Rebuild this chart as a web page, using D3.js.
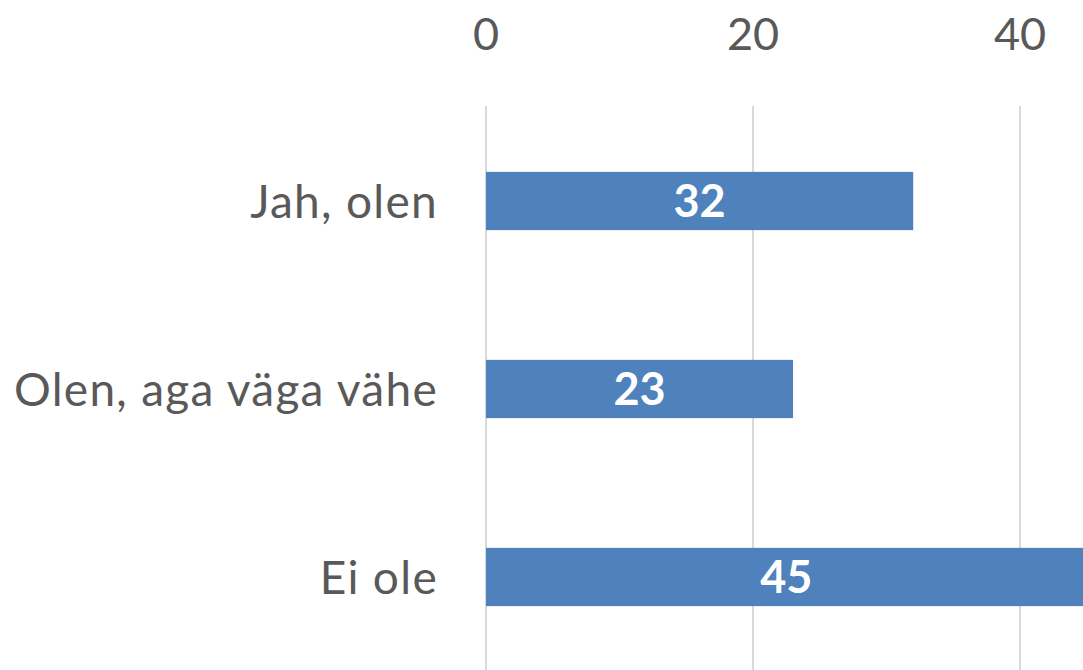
<!DOCTYPE html>
<html>
<head>
<meta charset="utf-8">
<script src="https://cdn.jsdelivr.net/npm/d3@7"></script>
<style>
  body { margin: 0; background: #fff; }
  text { font-family: Lato, "Open Sans", sans-serif; }
</style>
</head>
<body>
<div id="chart"></div>
<script>

// data
var categories = ["Jah, olen", "Olen, aga väga vähe", "Ei ole"];
var values = [32, 23, 45];
var tick_values = [0, 20, 40];

var width = 1083, height = 670;
var text_col = "#595959";
var bar_col = "#4f81bd";
var grid_col = "#d9d9d9";

var svg = d3.select("#chart")
  .append("svg")
  .attr("width", width)
  .attr("height", height);

// x axis: 0 at 486, 40 at 1020 (45 runs off the right edge)
var x = d3.scaleLinear()
  .domain([0, 40])
  .range([486, 1020]);

var y = d3.scaleBand()
  .domain(categories)
  .range([107, 671])
  .paddingInner(0.69)
  .paddingOuter(0.345);

// gridlines
svg.append("g")
  .selectAll("line")
  .data(tick_values)
  .enter()
  .append("line")
    .attr("x1", d => x(d))
    .attr("x2", d => x(d))
    .attr("y1", 106)
    .attr("y2", height)
    .attr("stroke", grid_col)
    .attr("stroke-width", 2);

// top tick labels
svg.append("g")
  .selectAll("text")
  .data(tick_values)
  .enter()
  .append("text")
    .attr("x", d => x(d))
    .attr("y", 50)
    .attr("text-anchor", "middle")
    .style("font-size", "45px")
    .style("fill", text_col)
    .text(d => d);

// bars
svg.append("g")
  .selectAll("rect")
  .data(values)
  .enter()
  .append("rect")
    .attr("x", x(0))
    .attr("y", (d, i) => y(categories[i]))
    .attr("width", d => x(d) - x(0))
    .attr("height", y.bandwidth())
    .attr("fill", bar_col);

// value labels
svg.append("g")
  .selectAll("text")
  .data(values)
  .enter()
  .append("text")
    .attr("x", d => (x(0) + x(d)) / 2)
    .attr("y", (d, i) => y(categories[i]) + y.bandwidth() / 2)
    .attr("dy", "0.36em")
    .attr("text-anchor", "middle")
    .style("font-size", "45px")
    .style("font-weight", "bold")
    .style("fill", "white")
    .text(d => d);

// category labels
svg.append("g")
  .selectAll("text")
  .data(categories)
  .enter()
  .append("text")
    .attr("x", 438)
    .attr("y", d => y(d) + y.bandwidth() / 2)
    .attr("dy", "0.36em")
    .attr("text-anchor", "end")
    .style("font-size", "46px")
    .style("letter-spacing", "1.3px")
    .style("fill", text_col)
    .text(d => d);

</script>
</body>
</html>
